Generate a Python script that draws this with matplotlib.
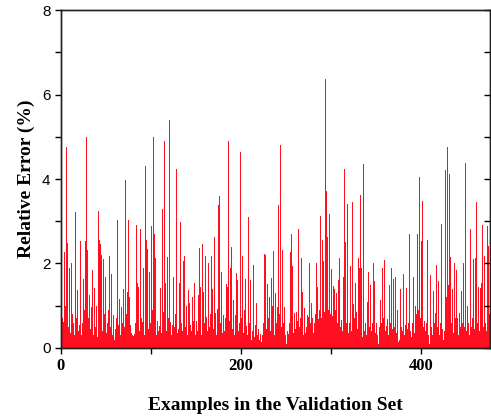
import numpy as np
import matplotlib
matplotlib.use('Agg')
import matplotlib.pyplot as plt
from matplotlib.ticker import MultipleLocator

# relative error (%) of each example in the validation set
errors = [
    0.86, 0.7, 0.62, 0.9, 2.28, 1.0, 4.76, 2.48, 0.5, 1.89,
    0.35, 2.0, 0.8, 0.45, 0.58, 0.3, 3.23, 0.7, 1.37, 0.4,
    0.55, 2.54, 0.3, 1.37, 0.6, 1.63, 0.9, 2.54, 5.0, 2.32,
    0.7, 1.25, 0.45, 0.97, 0.6, 1.85, 0.3, 1.43, 0.5, 1.0,
    0.25, 3.25, 2.55, 2.45, 0.65, 2.2, 0.4, 2.1, 0.8, 1.67,
    0.35, 0.6, 0.9, 2.17, 2.05, 0.5, 1.75, 0.3, 0.78, 0.2,
    0.45, 0.7, 3.03, 0.55, 1.4, 1.17, 0.3, 0.98, 0.6, 1.4,
    0.5, 3.98, 0.8, 1.33, 0.4, 3.03, 1.2, 0.55, 0.35, 0.3,
    0.28, 0.32, 0.6, 2.91, 0.5, 1.53, 1.45, 0.4, 2.81, 0.7,
    0.62, 1.89, 0.3, 4.31, 0.8, 2.55, 2.35, 0.45, 1.8, 0.6,
    2.89, 0.9, 5.0, 2.69, 0.5, 2.12, 0.3, 0.63, 0.4, 0.52,
    1.43, 0.35, 3.29, 0.86, 0.6, 4.89, 1.55, 0.4, 2.15, 0.7,
    5.4, 0.62, 0.3, 0.55, 1.25, 1.67, 0.5, 0.8, 4.23, 0.35,
    0.45, 1.53, 2.98, 0.6, 1.17, 0.4, 2.05, 2.17, 0.5, 1.0,
    0.3, 1.37, 1.07, 0.55, 4.69, 0.4, 1.2, 0.65, 1.53, 0.3,
    0.63, 0.4, 1.26, 2.37, 0.55, 1.45, 0.3, 2.45, 1.33, 0.6,
    2.17, 0.73, 0.4, 2.0, 1.9, 0.5, 0.8, 2.17, 1.39, 0.45,
    2.62, 0.83, 0.3, 0.93, 1.97, 3.38, 3.6, 0.6, 1.8, 0.35,
    0.78, 0.4, 0.7, 1.52, 0.5, 1.45, 4.89, 0.65, 1.89, 2.38,
    0.45, 1.14, 0.3, 0.78, 0.55, 1.78, 1.62, 0.4, 0.6, 4.65,
    0.7, 2.17, 0.35, 0.9, 0.5, 1.63, 0.52, 0.3, 3.1, 0.6,
    1.62, 0.2, 0.4, 1.97, 0.3, 0.25, 0.55, 1.07, 0.3, 0.45,
    0.2, 0.32, 0.15, 0.3, 2.9, 0.6, 2.22, 2.2, 0.45, 1.52,
    0.7, 1.2, 0.4, 1.66, 1.0, 0.55, 2.3, 0.3, 1.3, 0.6,
    0.97, 3.38, 0.8, 4.8, 0.5, 2.75, 2.32, 0.6, 0.96, 0.3,
    0.1, 0.4, 0.32, 0.6, 2.28, 0.5, 2.7, 1.95, 0.35, 0.83,
    0.45, 0.86, 0.63, 2.81, 0.5, 0.4, 0.7, 2.12, 1.33, 0.3,
    0.95, 0.35, 0.5, 0.78, 0.74, 0.4, 2.02, 0.6, 1.07, 0.7,
    0.35, 0.6, 0.8, 2.0, 1.45, 0.5, 0.68, 0.9, 3.12, 0.7,
    2.55, 2.05, 0.85, 6.36, 3.72, 1.0, 2.62, 0.9, 3.17, 0.8,
    1.86, 0.75, 1.46, 1.39, 0.9, 1.53, 1.3, 0.6, 1.62, 2.12,
    0.5, 0.66, 0.4, 1.68, 4.23, 0.7, 2.5, 0.6, 3.4, 0.35,
    0.6, 1.95, 0.4, 3.45, 1.05, 0.5, 0.7, 1.55, 0.86, 0.45,
    2.12, 1.89, 3.62, 1.9, 0.25, 0.6, 4.35, 0.4, 0.6, 0.3,
    1.1, 1.8, 0.5, 1.5, 0.4, 0.93, 0.6, 2.02, 1.58, 0.35,
    0.6, 0.3, 0.1, 0.5, 1.14, 2.22, 0.6, 1.89, 0.7, 2.08,
    0.4, 0.52, 0.68, 0.3, 1.5, 1.35, 0.6, 1.9, 0.45, 1.63,
    0.5, 1.68, 0.35, 0.9, 0.15, 0.3, 0.2, 1.39, 0.5, 0.4,
    1.75, 0.3, 0.54, 1.43, 0.45, 1.63, 0.6, 2.69, 0.4, 0.25,
    0.6, 1.68, 0.35, 1.0, 0.8, 3.7, 2.7, 0.9, 4.04, 0.7,
    2.54, 3.47, 0.5, 0.63, 0.4, 1.77, 0.6, 2.55, 0.3, 0.1,
    1.72, 0.5, 0.3, 1.35, 0.6, 0.4, 0.83, 1.97, 0.5, 1.58,
    0.3, 0.6, 2.93, 0.45, 0.2, 0.4, 0.9, 4.21, 1.2, 4.76,
    1.5, 4.13, 2.15, 0.6, 1.39, 0.35, 0.5, 2.0, 0.7, 1.85,
    0.7, 0.3, 0.83, 0.5, 1.35, 0.6, 1.85, 2.02, 0.5, 4.39,
    0.4, 1.0, 0.6, 0.3, 2.81, 0.5, 1.8, 0.7, 2.1, 0.45,
    2.12, 3.45, 0.6, 1.45, 0.4, 1.43, 0.7, 1.53, 2.92, 0.5,
    2.17, 0.6, 0.4, 2.89, 2.42, 0.8,
]
examples = np.arange(len(errors))

serif = 'Liberation Serif'
sans = 'Liberation Sans'

fig = plt.figure(figsize=(4.91, 4.18), dpi=100)
ax = fig.add_axes([0.124, 0.1675, 0.873, 0.8085])

ax.bar(examples, errors, width=1.0, align='edge', color='#ff1020', linewidth=0)

ax.set_xlim(0, len(errors))
ax.set_ylim(0, 8)
ax.xaxis.set_major_locator(MultipleLocator(200))
ax.xaxis.set_minor_locator(MultipleLocator(100))
ax.yaxis.set_major_locator(MultipleLocator(2))
ax.yaxis.set_minor_locator(MultipleLocator(1))

ax.tick_params(axis='x', which='both', direction='out', length=4, width=1, top=False)
ax.tick_params(axis='y', which='both', direction='out', length=4, width=1, right=False)

# right-hand ticks point inward, without labels
ax2 = ax.twinx()
ax2.set_ylim(0, 8)
ax2.yaxis.set_major_locator(MultipleLocator(1))
ax2.tick_params(axis='y', which='both', direction='in', length=4, width=1, labelright=False)

for lab in ax.get_xticklabels():
    lab.set_fontfamily(serif)
    lab.set_fontweight('bold')
    lab.set_fontsize(12)
for lab in ax.get_yticklabels():
    lab.set_fontfamily(sans)
    lab.set_fontsize(11)

for a in (ax, ax2):
    for s in a.spines.values():
        s.set_linewidth(1.0)
        s.set_color('#222222')

ax.set_xlabel('Examples in the Validation Set', fontfamily=serif, fontweight='bold', fontsize=14, labelpad=16)
ax.set_ylabel('Relative Error (%)', fontfamily=serif, fontweight='bold', fontsize=14, labelpad=5)

fig.savefig('out.png', dpi=100)
